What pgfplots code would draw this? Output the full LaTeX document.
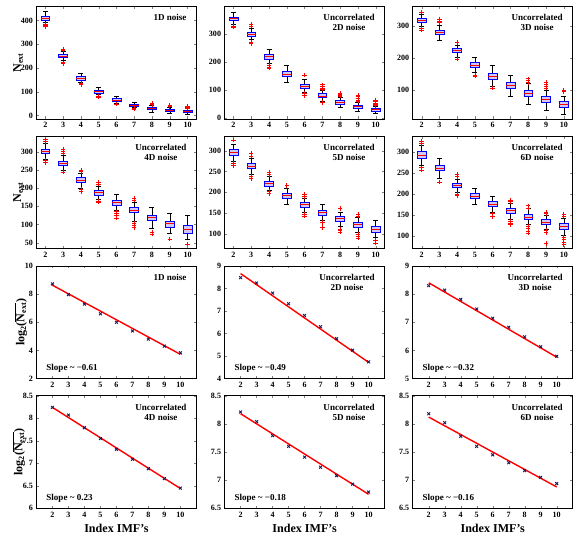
\documentclass[border=0pt]{standalone}
\usepackage{fontspec}
\setmainfont{Liberation Serif}
\usepackage{pgfplots}
\pgfplotsset{compat=1.18}
\usepgfplotslibrary{groupplots}
\definecolor{boxfill}{RGB}{210,200,245}
\definecolor{navy}{RGB}{25,25,95}
% \bx{pos}{median}{q1}{q3}{lower whisker}{upper whisker}{outlier coordinates}
\newcommand{\bx}[7]{%
 \pgfmathsetmacro\xa{#1-0.25}\pgfmathsetmacro\xb{#1+0.25}%
 \pgfmathsetmacro\ca{#1-0.14}\pgfmathsetmacro\cb{#1+0.14}%
 \addplot[black, line width=0.5pt] coordinates {(#1,#4)(#1,#6)};
 \addplot[black, line width=0.5pt] coordinates {(#1,#3)(#1,#5)};
 \addplot[black, line width=0.6pt] coordinates {(\ca,#6)(\cb,#6)};
 \addplot[black, line width=0.6pt] coordinates {(\ca,#5)(\cb,#5)};
 \addplot[draw=blue, fill=boxfill, line width=0.6pt] coordinates {(\xa,#3)(\xb,#3)(\xb,#4)(\xa,#4)} -- cycle;
 \addplot[red, line width=0.8pt] coordinates {(\xa,#2)(\xb,#2)};
 \if\relax\detokenize{#7}\relax\else
 \addplot[only marks, mark=+, mark size=2.2pt, red, line width=0.6pt] coordinates {#7};\fi
}
\newcommand{\scat}[2]{\addplot[red, line width=1.4pt] coordinates {#2};
  \addplot[only marks, mark=x, mark size=2pt, draw=navy, line width=0.9pt] coordinates {#1};}
\tikzset{
  panel/.style={anchor=north east, align=center, font=\fontsize{9}{10}\selectfont\bfseries},
  slope/.style={anchor=south west, font=\fontsize{9}{10}\selectfont\bfseries},
}
\begin{document}
\begin{tikzpicture}
\begin{groupplot}[group style={group size=3 by 4, horizontal sep=28pt, vertical sep=17pt},
  scale only axis, width=159pt, height=112pt,
  xtick={2,...,10}, tick align=inside, major tick length=2.5pt,
  /pgf/number format/assume math mode=true,
  ticklabel style={font=\fontsize{8}{9}\selectfont\bfseries},
  label style={font=\fontsize{12}{14}\selectfont\bfseries},
  ylabel style={yshift=-9pt},
  axis line style={line width=0.6pt},
]
% Row 1
\nextgroupplot[xmin=1.5, xmax=10.5, ymin=-15, ymax=460, ytick={0,100,...,400}, ylabel={N\textsubscript{ext}}]
\bx{2}{410}{402}{420}{392}{440}{(2,380)(2,375)(2,385)}
\bx{3}{250}{244}{258}{232}{270}{(3,280)(3,276)(3,222)(3,218)}
\bx{4}{157}{150}{165}{140}{178}{(4,135)(4,130)}
\bx{5}{100}{95}{107}{88}{117}{(5,82)(5,78)}
\bx{6}{65}{60}{71}{52}{80}{(6,48)}
\bx{7}{44}{40}{48}{33}{57}{(7,28)(7,31)}
\bx{8}{30}{26}{35}{15}{44}{(8,50)(8,47)}
\bx{9}{22}{18}{27}{8}{35}{(9,40)(9,42)(9,38)}
\bx{10}{18}{14}{22}{5}{30}{(10,40)(10,35)(10,32)}
\node[panel] at (rel axis cs:0.96,0.96) {1D noise};
\nextgroupplot[xmin=1.5, xmax=10.5, ymin=-5, ymax=400, ytick={0,100,200,300}]
\bx{2}{355}{349}{362}{335}{378}{(2,326)(2,330)}
\bx{3}{300}{294}{307}{280}{320}{(3,335)(3,330)(3,270)(3,266)}
\bx{4}{219}{211}{227}{195}{244}{(4,188)(4,182)(4,179)}
\bx{5}{157}{150}{166}{127}{189}{}
\bx{6}{111}{105}{119}{90}{137}{(6,153)(6,86)(6,80)}
\bx{7}{78}{72}{86}{58}{98}{(7,118)(7,112)(7,106)(7,102)(7,54)}
\bx{8}{55}{49}{61}{38}{72}{(8,88)(8,84)(8,80)(8,77)}
\bx{9}{40}{34}{46}{22}{55}{(9,82)(9,75)(9,68)(9,63)(9,60)}
\bx{10}{28}{22}{34}{15}{40}{(10,64)(10,58)(10,52)(10,47)(10,44)}
\node[panel] at (rel axis cs:0.96,0.96) {Uncorrelated\\2D noise};
\nextgroupplot[xmin=1.5, xmax=10.5, ymin=10, ymax=360, ytick={100,200,300}]
\bx{2}{317}{311}{323}{298}{336}{(2,342)(2,291)(2,287)}
\bx{3}{280}{273}{287}{256}{300}{(3,321)(3,315)(3,309)}
\bx{4}{223}{216}{229}{202}{240}{(4,248)(4,197)}
\bx{5}{178}{170}{185}{155}{203}{(5,147)(5,143)}
\bx{6}{142}{134}{151}{112}{178}{(6,106)}
\bx{7}{113}{104}{124}{80}{147}{}
\bx{8}{90}{81}{100}{55}{120}{(8,135)(8,130)(8,124)}
\bx{9}{70}{61}{79}{37}{100}{(9,125)(9,118)(9,112)(9,106)}
\bx{10}{55}{46}{65}{25}{82}{(10,100)(10,95)}
\node[panel] at (rel axis cs:0.96,0.96) {Uncorrelated\\3D noise};
% Row 2
\nextgroupplot[xmin=1.5, xmax=10.5, ymin=33, ymax=343, ytick={50,100,...,300}, ylabel={N\textsubscript{ext}}]
\bx{2}{301}{295}{308}{280}{322}{(2,333)(2,328)(2,276)(2,270)}
\bx{3}{268}{262}{274}{248}{290}{(3,307)(3,302)(3,297)(3,244)}
\bx{4}{222}{216}{229}{200}{242}{(4,250)(4,246)(4,196)(4,191)}
\bx{5}{188}{181}{195}{168}{205}{(5,216)(5,211)(5,165)(5,161)}
\bx{6}{160}{153}{166}{140}{184}{(6,135)(6,130)(6,125)(6,117)}
\bx{7}{139}{133}{147}{110}{160}{(7,173)(7,167)(7,103)(7,97)(7,91)}
\bx{8}{120}{112}{126}{88}{148}{(8,78)(8,74)}
\bx{9}{102}{92}{110}{75}{131}{(9,60)}
\bx{10}{87}{76}{99}{60}{124}{(10,46)}
\node[panel] at (rel axis cs:0.96,0.96) {Uncorrelated\\4D noise};
\nextgroupplot[xmin=1.5, xmax=10.5, ymin=64, ymax=335, ytick={100,150,...,300}]
\bx{2}{296}{289}{303}{275}{315}{(2,325)(2,270)(2,264)}
\bx{3}{262}{257}{269}{243}{282}{(3,293)(3,287)(3,238)(3,233)}
\bx{4}{221}{215}{227}{205}{238}{(4,247)(4,242)(4,202)(4,197)}
\bx{5}{192}{186}{198}{172}{210}{(5,216)}
\bx{6}{170}{163}{177}{152}{185}{(6,196)(6,190)(6,148)(6,143)}
\bx{7}{151}{144}{157}{132}{170}{(7,127)(7,115)}
\bx{8}{136}{130}{142}{117}{152}{(8,161)(8,112)(8,108)(8,104)}
\bx{9}{122}{116}{127}{104}{140}{(9,147)(9,143)(9,99)(9,95)(9,90)}
\bx{10}{110}{103}{118}{92}{133}{(10,84)(10,78)}
\node[panel] at (rel axis cs:0.96,0.96) {Uncorrelated\\5D noise};
\nextgroupplot[xmin=1.5, xmax=10.5, ymin=70, ymax=337, ytick={100,150,...,300}]
\bx{2}{292}{285}{300}{268}{315}{(2,325)(2,320)(2,262)(2,257)}
\bx{3}{260}{255}{267}{237}{285}{(3,228)}
\bx{4}{220}{215}{226}{203}{235}{(4,246)(4,241)(4,200)(4,196)}
\bx{5}{195}{189}{201}{176}{214}{}
\bx{6}{175}{170}{182}{157}{195}{(6,153)(6,147)}
\bx{7}{160}{154}{166}{140}{177}{(7,186)(7,182)(7,136)(7,131)(7,127)}
\bx{8}{145}{140}{152}{128}{165}{(8,172)(8,167)(8,124)(8,119)(8,112)(8,107)}
\bx{9}{133}{128}{140}{117}{150}{(9,157)(9,153)(9,113)(9,108)(9,83)}
\bx{10}{123}{117}{130}{102}{143}{(10,152)(10,148)(10,98)(10,93)(10,86)(10,80)}
\node[panel] at (rel axis cs:0.96,0.96) {Uncorrelated\\6D noise};
% Row 3
\nextgroupplot[xmin=1, xmax=11, ymin=2, ymax=10, ytick={2,4,...,10}, ylabel={log\textsubscript{2}($\overline{\mbox{N\textsubscript{ext}}}$)}]
\scat{(2,8.72)(3,7.96)(4,7.29)(5,6.6)(6,6.0)(7,5.38)(8,4.8)(9,4.3)(10,3.83)}{(2,8.63)(10,3.72)}
\node[panel] at (rel axis cs:0.96,0.96) {1D noise};
\node[slope] at (rel axis cs:0.04,0.02) {Slope \textasciitilde\ −0.61};
\nextgroupplot[xmin=1, xmax=11, ymin=4, ymax=9, ytick={4,...,9}]
\scat{(2,8.48)(3,8.24)(4,7.79)(5,7.32)(6,6.8)(7,6.3)(8,5.77)(9,5.26)(10,4.74)}{(2,8.66)(10,4.72)}
\node[panel] at (rel axis cs:0.96,0.96) {Uncorrelarted\\2D noise};
\node[slope] at (rel axis cs:0.04,0.02) {Slope \textasciitilde\ −0.49};
\nextgroupplot[xmin=1, xmax=11, ymin=5, ymax=9, ytick={5,...,9}]
\scat{(2,8.3)(3,8.14)(4,7.81)(5,7.47)(6,7.14)(7,6.82)(8,6.48)(9,6.13)(10,5.79)}{(2,8.4)(10,5.76)}
\node[panel] at (rel axis cs:0.96,0.96) {Uncorrelarted\\3D noise};
\node[slope] at (rel axis cs:0.04,0.02) {Slope \textasciitilde\ −0.32};
% Row 4
\nextgroupplot[xmin=1, xmax=11, ymin=6, ymax=8.5, ytick={6,6.5,...,8.5}, ylabel={log\textsubscript{2}($\overline{\mbox{N\textsubscript{ext}}}$)}, xlabel={Index IMF’s}]
\scat{(2,8.24)(3,8.07)(4,7.79)(5,7.55)(6,7.31)(7,7.09)(8,6.88)(9,6.66)(10,6.45)}{(2,8.24)(10,6.44)}
\node[panel] at (rel axis cs:0.96,0.96) {Uncorrelated\\4D noise};
\node[slope] at (rel axis cs:0.04,0.02) {Slope \textasciitilde\ 0.23};
\nextgroupplot[xmin=1, xmax=11, ymin=6.5, ymax=8.5, ytick={6.5,7,...,8.5}, xlabel={Index IMF’s}]
\scat{(2,8.21)(3,8.04)(4,7.79)(5,7.6)(6,7.41)(7,7.23)(8,7.08)(9,6.93)(10,6.79)}{(2,8.18)(10,6.75)}
\node[panel] at (rel axis cs:0.96,0.96) {Uncorrelated\\5D noise};
\node[slope] at (rel axis cs:0.04,0.02) {Slope \textasciitilde\ −0.18};
\nextgroupplot[xmin=1, xmax=11, ymin=6.5, ymax=8.5, ytick={6.5,7,...,8.5}, xlabel={Index IMF’s}]
\scat{(2,8.18)(3,8.02)(4,7.78)(5,7.6)(6,7.45)(7,7.31)(8,7.17)(9,7.05)(10,6.94)}{(2,8.12)(10,6.88)}
\node[panel] at (rel axis cs:0.96,0.96) {Uncorrelated\\6D noise};
\node[slope] at (rel axis cs:0.04,0.02) {Slope \textasciitilde\ −0.16};
\end{groupplot}
\path ([shift={(-9pt,6pt)}]current bounding box.north west) ([shift={(3pt,0pt)}]current bounding box.south east);
\end{tikzpicture}
\end{document}
